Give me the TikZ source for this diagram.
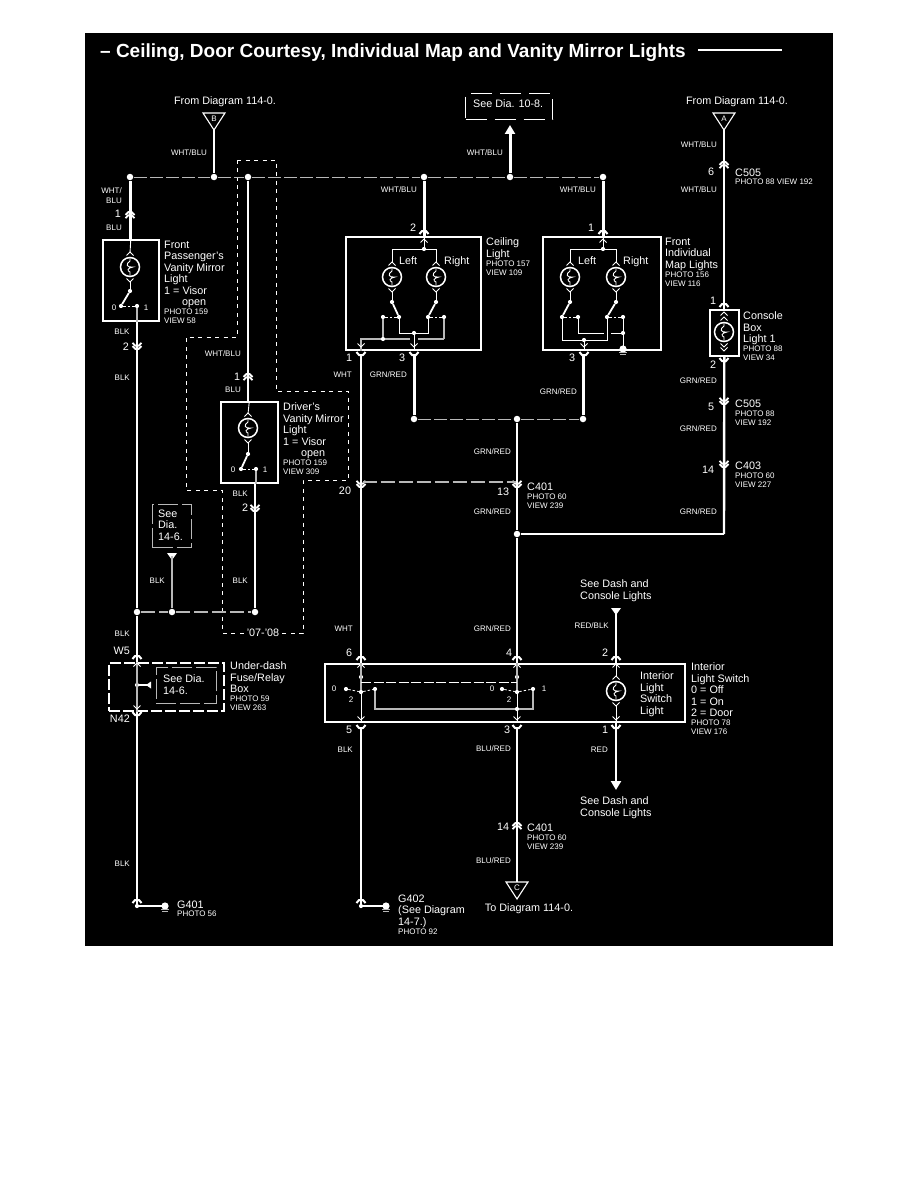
\documentclass[tikz,border=0pt]{standalone}
\usepackage{fontspec}
\setmainfont{Liberation Sans}
\usepackage{xcolor}
\usepackage{tikz}
\usetikzlibrary{arrows.meta}
\definecolor{bg}{HTML}{000000}
\definecolor{ink}{HTML}{FFFFFF}
\definecolor{dim}{HTML}{B8B8B8}
\newcommand{\smf}{\fontsize{8}{9}\selectfont}
\newcommand{\pv}[2]{\\[-2.2pt]{\smf #1}\\[-2.4pt]{\smf #2}}
\tikzset{
  wire/.style={draw=ink, line width=2.4pt},
  wireB/.style={draw=ink, line width=3pt},
  wireT/.style={draw=ink, line width=1.8pt},
  wireS/.style={draw=ink, line width=0.9pt},
  wireG/.style={draw=dim, line width=1.1pt},
  bus/.style={draw=dim, line width=0.8pt, dash pattern=on 13pt off 3pt},
  busB/.style={draw=dim, line width=1.7pt, dash pattern=on 14pt off 4pt},
  encl/.style={draw=ink, line width=0.8pt, dash pattern=on 4pt off 4.5pt},
  fuseB/.style={draw=ink, line width=1.6pt, dash pattern=on 11pt off 3pt},
  seeB/.style={draw=dim, line width=1.1pt, dash pattern=on 20pt off 4pt},
  mech/.style={draw=ink, line width=0.8pt, dash pattern=on 2.5pt off 2pt},
  box/.style={draw=ink, line width=1.6pt, inner sep=0pt, anchor=north west},
  dot/.style={circle, fill=ink, inner sep=0pt, minimum size=6.5pt, outer sep=1pt},
  dotS/.style={circle, fill=ink, inner sep=0pt, minimum size=4.2pt},
  blk/.style={text=ink, inner sep=0pt, anchor=north west, align=left, yshift=-1.8pt, font=\fontsize{10.8}{11.4}\selectfont},
  lab/.style={text=ink, inner sep=0pt, text height=7.8pt, text depth=0pt, font=\fontsize{10.8}{11.4}\selectfont},
  wl/.style={text=ink, inner sep=0pt, text height=5.8pt, text depth=0pt, font=\fontsize{8}{9}\selectfont},
  capUp/.pic={\draw[wireT, line width=2pt] (-4.5,2) -- (-2,-1) -- (2,-1) -- (4.5,2);},
  capDn/.pic={\draw[wireT, line width=2pt] (-4.5,-2) -- (-2,1) -- (2,1) -- (4.5,-2);},
  pinUp/.pic={\draw[wireT] (-4.5,0) -- (-1.5,-3) -- (1.5,-3) -- (4.5,0); \draw[wireT] (-4.5,3.2) -- (-1.5,0.2) -- (1.5,0.2) -- (4.5,3.2);},
  pinDn/.pic={\draw[wireT] (-4.5,-3.2) -- (-1.5,-0.2) -- (1.5,-0.2) -- (4.5,-3.2); \draw[wireT] (-4.5,0) -- (-1.5,3) -- (1.5,3) -- (4.5,0);},
  chevUp/.pic={\draw[wireS] (-3.5,2.5) -- (0,-1) -- (3.5,2.5);},
  chevDn/.pic={\draw[wireS] (-3.5,-2.5) -- (0,1) -- (3.5,-2.5);},
  lamp/.pic={
    \draw[draw=ink, line width=1.5pt] (0,0) circle[radius=9.5pt];
    \draw[wireS] (0,-9) -- (0,-6) .. controls (-5,-3) and (-3,1) .. (3,0) .. controls (-3,1) and (-3,4) .. (0,5) -- (0,9);
    \pic at (0,-14) {chevUp};
    \pic at (0,14) {chevDn};
  },
  gnd/.pic={
    \fill[ink] (0,0) circle[radius=3.6pt];
    \draw[draw=dim, line width=1.2pt] (-4,3.6) -- (4,3.6);
    \draw[draw=dim, line width=1.2pt] (-3,5.6) -- (3,5.6);
  },
  headDn/.pic={\fill[ink] (-5,-3) -- (5,-3) -- (0,4) -- cycle;},
  offTri/.pic={\draw[draw=ink, line width=1.1pt] (-11,0) -- (11,0) -- (0,17) -- cycle;}
}

\begin{document}
\begin{tikzpicture}[x=1pt,y=-1pt]
  \useasboundingbox (0,0) rectangle (918,1188);
  \fill[bg] (85,33) rectangle (833,946);

  % title
  \node[text=ink, inner sep=0pt, anchor=west, font=\fontsize{19}{21}\bfseries\selectfont] (titleTxt) at (100,52.5) {– Ceiling, Door Courtesy, Individual Map and Vanity Mirror Lights};
  \coordinate (ruleA) at (698,50);
  \coordinate (ruleB) at (782,50);
  \draw[wireT] (ruleA) -- (ruleB);

  % model year outline
  \draw[encl] (237,160) -- (276,160) -- (276,391) -- (348,391) -- (348,480) -- (303,480) -- (303,633) -- (222,633) -- (222,490) -- (186,490) -- (186,337) -- (237,337) -- cycle;
  \node[lab, fill=bg, inner xsep=3pt, anchor=center] (yearLab) at (263,633) {'07-'08};

  % top bus
  \node[dot] (busA) at (130,177) {};
  \node[dot] (busB) at (214,177) {};
  \node[dot] (busC) at (248,177) {};
  \node[dot] (busD) at (424,177) {};
  \node[dot] (busE) at (510,177) {};
  \node[dot] (busF) at (603,177) {};
  \draw[bus] (busA) -- (busB);
  \draw[bus] (busB) -- (busC);
  \draw[bus] (busC) -- (busD);
  \draw[bus] (busD) -- (busE);
  \draw[bus] (busE) -- (busF);

  % feed B
  \node[lab, anchor=center] (fromB) at (225,101) {From Diagram 114-0.};
  \pic at (214,113) {offTri};
  \node[wl, anchor=center] (triBtxt) at (214,119) {B};
  \coordinate (triB) at (214,130);
  \draw[wire] (triB) -- (busB);
  \node[wl, anchor=center] (wbB) at (189,153) {WHT/BLU};

  % feed A
  \node[lab, anchor=center] (fromA) at (737,101) {From Diagram 114-0.};
  \pic at (724,113) {offTri};
  \node[wl, anchor=center] (triAtxt) at (724,119) {A};
  \coordinate (triA) at (724,130);
  \coordinate (conTop) at (724,309);
  \draw[wireT] (triA) -- (conTop);
  \pic at (724,165) {pinUp};
  \node[wl, anchor=east] (wbA1) at (717,145) {WHT/BLU};
  \node[wl, anchor=east] (wbA2) at (717,190) {WHT/BLU};
  \node[lab] (pinA6) at (711,172) {6};
  \node[blk] (c505a) at (735,167) {C505\\[-3pt]{\smf PHOTO 88 VIEW 192}};

  % passenger mirror light
  \node[box, minimum width=56pt, minimum height=81pt] (passBox) at (102,239) {};
  \draw[wireB] (busA) -- (busA |- passBox.north);
  \pic at (130,215) {pinUp};
  \node[wl, anchor=east] (wbP1) at (122,191) {WHT/};
  \node[wl, anchor=east] (wbP2) at (122,201) {BLU};
  \node[lab] (pinP1) at (118,214) {1};
  \node[wl, anchor=east] (wbP3) at (122,228) {BLU};
  \node[blk] (passLab) at (164,239) {Front\\Passenger's\\Vanity Mirror\\Light\\1 = Visor\\\hspace{18pt}open\pv{PHOTO 159}{VIEW 58}};
  \pic at (130,267) {lamp};
  \node[dotS] (passLampA) at (130,291) {};
  \node[dotS] (passSwA) at (121,306) {};
  \node[dotS] (passSwB) at (137,306) {};
  \draw[wireS] (passBox.north) -- (130,253);
  \draw[wireS] (130,281) -- (passLampA);
  \draw[wireT] (passLampA) -- (passSwA);
  \draw[mech] (passSwA) -- (passSwB);
  \node[wl] (passZero) at (114,308) {0};
  \node[wl] (passOne) at (146,308) {1};
  \draw[wireG] (passSwB) -- (passSwB |- passBox.south);

  % passenger ground run
  \node[dot] (lowA) at (137,612) {};
  \node[dot] (lowB) at (172,612) {};
  \node[dot] (lowC) at (255,612) {};
  \draw[wire] (passSwB |- passBox.south) -- (lowA);
  \pic at (137,346) {pinDn};
  \node[wl, anchor=center] (blkP1) at (122,332) {BLK};
  \node[lab] (pinP2) at (126,347) {2};
  \node[wl, anchor=east] (blkP2) at (130,378) {BLK};
  \node[wl, anchor=east] (blkP3) at (130,634) {BLK};
  \draw[busB] (lowA) -- (lowB);
  \draw[busB] (lowB) -- (lowC);

  % see dia box left
  \node[box, seeB, minimum width=39pt, minimum height=43pt] (seeLeft) at (152,504) {};
  \node[blk, anchor=north west] (seeLeftTxt) at (158,508) {See\\Dia.\\14-6.};
  \coordinate (seeLeftEnd) at (172,556);
  \pic at (172,556) {headDn};
  \draw[wire, dim] (seeLeftEnd) -- (lowB);
  \node[wl, anchor=east] (blkS) at (165,581) {BLK};

  % driver mirror light
  \node[box, minimum width=57pt, minimum height=81pt] (drvBox) at (220,401) {};
  \draw[wire] (busC) -- (busC |- drvBox.north);
  \pic at (248,377) {pinUp};
  \node[wl, anchor=east] (wbD1) at (241,354) {WHT/BLU};
  \node[lab] (pinD1) at (237,377) {1};
  \node[wl, anchor=east] (wbD2) at (241,390) {BLU};
  \node[blk] (drvLab) at (283,401) {Driver's\\Vanity Mirror\\Light\\1 = Visor\\\hspace{18pt}open\pv{PHOTO 159}{VIEW 309}};
  \pic at (248,428) {lamp};
  \node[dotS] (drvLampA) at (248,454) {};
  \node[dotS] (drvSwA) at (241,469) {};
  \node[dotS] (drvSwB) at (256,469) {};
  \draw[wireS] (drvBox.north) -- (248,414);
  \draw[wireS] (248,442) -- (drvLampA);
  \draw[wireT] (drvLampA) -- (drvSwA);
  \draw[mech] (drvSwA) -- (drvSwB);
  \node[wl] (drvZero) at (233,470) {0};
  \node[wl] (drvOne) at (265,470) {1};
  \draw[wireG] (drvSwB) -- (drvSwB |- drvBox.south);
  \draw[wire] (lowC |- drvBox.south) -- (lowC);
  \pic at (255,508) {pinDn};
  \node[wl, anchor=east] (blkD1) at (248,494) {BLK};
  \node[lab] (pinD2) at (245,508) {2};
  \node[wl, anchor=east] (blkD2) at (248,581) {BLK};

  % fuse box
  \node[box, fuseB, minimum width=115pt, minimum height=48pt] (fuseBox) at (108,662) {};
  \node[box, seeB, line width=0.9pt, minimum width=60pt, minimum height=36pt] (fuseSee) at (156,667) {};
  \node[blk] (fuseSeeTxt) at (163,673) {See Dia.\\14-6.};
  \node[blk] (fuseLab) at (230,660) {Under-dash\\Fuse/Relay\\Box\pv{PHOTO 59}{VIEW 263}};
  \node[lab, anchor=east] (w5Lab) at (130,651) {W5};
  \node[lab, anchor=east] (n42Lab) at (130,719) {N42};
  \node[dotS] (fuseDot) at (137,685) {};
  \coordinate (fuseTip) at (150,685);
  \draw[wireT] (fuseDot) -- (fuseTip);
  \fill[ink] (146,685) -- (151,681.5) -- (151,688.5) -- cycle;
  \draw[wire] (lowA) -- (lowA |- fuseBox.north);
  \draw[wireG] (lowA |- fuseBox.north) -- (lowA |- fuseBox.south);
  \pic at (137,657) {capUp};
  \pic at (137,664) {chevUp};
  \pic at (137,708) {chevDn};
  \pic at (137,714) {capDn};
  \node[dotS] (g401A) at (137,906) {};
  \coordinate (g401B) at (164,906);
  \draw[wire] (lowA |- fuseBox.south) -- (g401A);
  \draw[wireT] (g401A) -- (g401B);
  \pic at (137,901) {capUp};
  \pic at (165,906) {gnd};
  \node[wl, anchor=east] (blkG1) at (130,864) {BLK};
  \node[blk] (g401Lab) at (177,899) {G401\\[-3pt]{\smf PHOTO 56}};

  % see dia top
  \node[box, fuseB, line width=1.1pt, dash pattern=on 21pt off 8pt, minimum width=87pt, minimum height=26pt] (seeTop) at (465,93) {};
  \node[lab, anchor=west] (seeTopTxt) at (473,104) {See Dia. 10-8.};
  \coordinate (seeTip) at (510,125);
  \draw[wireB, -{Triangle[width=10pt,length=9pt]}] (busE) -- (seeTip);
  \node[wl, anchor=east] (wbT) at (503,153) {WHT/BLU};

  % ceiling light
  \node[box, minimum width=135pt, minimum height=113pt] (ceilBox) at (345,236) {};
  \draw[wireB] (busD) -- (busD |- ceilBox.north);
  \pic at (424,232) {capUp};
  \pic at (424,240) {chevUp};
  \node[wl, anchor=east] (wbC) at (417,190) {WHT/BLU};
  \node[lab] (pinC2) at (413,228) {2};
  \node[blk] (ceilLab) at (486,236) {Ceiling\\Light\pv{PHOTO 157}{VIEW 109}};
  \node[dotS] (ceilTop) at (424,249) {};
  \draw[wireS] (ceilTop |- ceilBox.north) -- (ceilTop);
  \pic at (392,277) {lamp};
  \pic at (436,277) {lamp};
  \draw[wireS] (392,263) |- (ceilTop);
  \draw[wireS] (436,263) |- (ceilTop);
  \node[lab, anchor=west] (ceilL) at (399,261) {Left};
  \node[lab, anchor=west] (ceilR) at (444,261) {Right};
  \node[dotS] (ceilLa) at (392,302) {};
  \node[dotS] (ceilRa) at (436,302) {};
  \node[dotS] (ceilLb) at (399,317) {};
  \node[dotS] (ceilRb) at (428,317) {};
  \node[dotS] (ceilLc) at (383,317) {};
  \node[dotS] (ceilRc) at (444,317) {};
  \draw[wireS] (392,291) -- (ceilLa);
  \draw[wireS] (436,291) -- (ceilRa);
  \draw[wireT] (ceilLa) -- (ceilLb);
  \draw[wireT] (ceilRa) -- (ceilRb);
  \draw[mech] (ceilLc) -- (ceilLb);
  \draw[mech] (ceilRb) -- (ceilRc);
  \node[dotS] (ceilMid) at (414,333) {};
  \node[dotS] (ceilGr) at (383,339) {};
  \coordinate (ceilOut) at (361,339);
  \coordinate (ceilEnd) at (444,339);
  \draw[wireS] (ceilLb) |- (ceilMid);
  \draw[wireS] (ceilRb) |- (ceilMid);
  \draw[wireG] (ceilLc) -- (ceilGr);
  \draw[wireG] (ceilRc) -- (ceilEnd);
  \draw[wireG, line width=1.5pt] (ceilOut |- ceilBox.south) -- (ceilOut) -- (ceilGr) -- (410,339);
  \draw[wireG, line width=1.5pt] (418,339) -- (ceilEnd);
  \draw[wireS] (ceilMid) -- (ceilMid |- ceilBox.south);
  \pic at (361,346) {chevDn};
  \pic at (414,346) {chevDn};
  \pic at (361,354) {capDn};
  \pic at (414,354) {capDn};
  \node[lab] (pinC1) at (349,358) {1};
  \node[lab] (pinC3) at (402,358) {3};
  \node[wl, anchor=east] (whtC) at (352,375) {WHT};
  \node[wl, anchor=east] (grC) at (407,375) {GRN/RED};

  % map lights
  \node[box, minimum width=118pt, minimum height=113pt] (mapBox) at (542,236) {};
  \draw[wireB] (busF) -- (busF |- mapBox.north);
  \pic at (603,232) {capUp};
  \pic at (603,240) {chevUp};
  \node[wl, anchor=east] (wbM) at (596,190) {WHT/BLU};
  \node[lab] (pinM1) at (591,228) {1};
  \node[blk] (mapLab) at (665,236) {Front\\Individual\\Map Lights\pv{PHOTO 156}{VIEW 116}};
  \node[dotS] (mapTop) at (603,249) {};
  \draw[wireS] (mapTop |- mapBox.north) -- (mapTop);
  \pic at (570,277) {lamp};
  \pic at (616,277) {lamp};
  \draw[wireS] (570,263) |- (mapTop);
  \draw[wireS] (616,263) |- (mapTop);
  \node[lab, anchor=west] (mapL) at (578,261) {Left};
  \node[lab, anchor=west] (mapR) at (623,261) {Right};
  \node[dotS] (mapLa) at (570,302) {};
  \node[dotS] (mapRa) at (616,302) {};
  \node[dotS] (mapLb) at (562,317) {};
  \node[dotS] (mapRb) at (607,317) {};
  \node[dotS] (mapLc) at (578,317) {};
  \node[dotS] (mapRc) at (623,317) {};
  \draw[wireS] (570,291) -- (mapLa);
  \draw[wireS] (616,291) -- (mapRa);
  \draw[wireT] (mapLa) -- (mapLb);
  \draw[wireT] (mapRa) -- (mapRb);
  \draw[mech] (mapLb) -- (mapLc);
  \draw[mech] (mapRb) -- (mapRc);
  \node[dotS] (mapMid) at (584,340) {};
  \node[dotS] (mapSide) at (623,333) {};
  \coordinate (mapGapA) at (604,333);
  \coordinate (mapGapB) at (611,333);
  \draw[wireS] (mapLb) |- (mapMid);
  \draw[wireS] (mapRb) |- (mapMid);
  \draw[wireS] (mapLc) |- (mapGapA);
  \draw[wireS] (mapGapB) -- (mapSide);
  \draw[wireS] (mapRc) -- (mapSide);
  \draw[wireS] (mapSide) -- (mapSide |- mapBox.south);
  \draw[wireS] (mapMid) -- (mapMid |- mapBox.south);
  \pic at (623,349) {gnd};
  \pic at (584,346) {chevDn};
  \pic at (584,354) {capDn};
  \node[lab] (pinM3) at (572,358) {3};

  % green/red run
  \node[dot] (grA) at (414,419) {};
  \node[dot] (grB) at (517,419) {};
  \node[dot] (grC2) at (583,419) {};
  \node[dot] (grD) at (517,534) {};
  \coordinate (grCorner) at (724,534);
  \draw[bus] (grA) -- (grB);
  \draw[bus] (grB) -- (grC2);
  \draw[wireB] (ceilMid |- ceilBox.south) ++(0,5) -- (grA);
  \draw[wireB] (grC2 |- mapBox.south) ++(0,5) -- (grC2);
  \draw[wire] (grB) -- (grD);
  \node[wl, anchor=east] (grM) at (577,392) {GRN/RED};
  \node[wl, anchor=east] (grX1) at (511,452) {GRN/RED};
  \node[wl, anchor=east] (grX2) at (511,512) {GRN/RED};
  \node[wl, anchor=east] (grX3) at (511,629) {GRN/RED};
  \pic at (517,484) {pinDn};
  \node[lab] (pin13) at (503,492) {13};
  \node[blk] (c401a) at (527,481) {C401\pv{PHOTO 60}{VIEW 239}};
  \draw[wire] (grD) -- (grCorner);

  % console box
  \node[box, minimum width=29pt, minimum height=46pt] (conBox) at (709,309) {};
  \pic at (724,305) {capUp};
  \pic at (724,313) {chevUp};
  \pic at (724,332) {lamp};
  \pic at (724,350) {chevDn};
  \pic at (724,360) {capDn};
  \node[lab] (pinK1) at (713,301) {1};
  \node[lab] (pinK2) at (713,365) {2};
  \node[blk] (conLab) at (743,310) {Console\\Box\\Light 1\pv{PHOTO 88}{VIEW 34}};
  \draw[wire] (conBox.south) -- (grCorner);
  \node[wl, anchor=east] (grK1) at (717,381) {GRN/RED};
  \node[wl, anchor=east] (grK2) at (717,429) {GRN/RED};
  \node[wl, anchor=east] (grK3) at (717,512) {GRN/RED};
  \pic at (724,401) {pinDn};
  \node[lab] (pinK5) at (711,407) {5};
  \node[blk] (c505b) at (735,398) {C505\pv{PHOTO 88}{VIEW 192}};
  \pic at (724,464) {pinDn};
  \node[lab] (pinK14) at (708,470) {14};
  \node[blk] (c403) at (735,460) {C403\pv{PHOTO 60}{VIEW 227}};

  % interior switch
  \node[box, minimum width=360pt, minimum height=58pt] (swBox) at (324,663) {};
  \draw[wire] (ceilOut |- ceilBox.south) ++(0,5) -- (ceilOut |- swBox.north);
  \draw[wire] (grD) -- (grD |- swBox.north);
  \pic at (361,484) {pinDn};
  \node[lab] (pin20) at (345,491) {20};
  \node[dot, minimum size=1pt, fill=none] (crossA) at (361,482) {};
  \node[dot, minimum size=1pt, fill=none] (crossB) at (517,482) {};
  \draw[busB] (crossA) -- (crossB);
  \node[wl, anchor=east] (whtS) at (353,629) {WHT};
  \node[blk] (dashA) at (580,578) {See Dash and\\Console Lights};
  \pic at (616,611) {headDn};
  \coordinate (redIn) at (616,612);
  \draw[wire] (redIn) -- (redIn |- swBox.north);
  \node[wl, anchor=east] (rbS) at (609,626) {RED/BLK};
  \foreach \x in {361,517,616} {
    \pic at (\x,658) {capUp};
    \pic at (\x,665) {chevUp};
    \pic at (\x,719) {chevDn};
    \pic at (\x,727) {capDn};
  }
  \node[lab] (pinS6) at (349,653) {6};
  \node[lab] (pinS4) at (509,653) {4};
  \node[lab] (pinS2) at (605,653) {2};
  \node[lab] (pinS5) at (349,730) {5};
  \node[lab] (pinS3) at (507,730) {3};
  \node[lab] (pinS1) at (605,730) {1};
  \node[dotS] (swAa) at (361,677) {};
  \node[dotS] (swBa) at (517,677) {};
  \node[dotS] (swAb) at (361,692) {};
  \node[dotS] (swBb) at (517,692) {};
  \node[dotS] (swAl) at (346,689) {};
  \node[dotS] (swAr) at (375,689) {};
  \node[dotS] (swBl) at (502,689) {};
  \node[dotS] (swBr) at (533,689) {};
  \node[dotS] (swLow) at (517,709) {};
  \draw[wireG] (swAa |- swBox.north) -- (swAb);
  \draw[wireG] (swBa |- swBox.north) -- (swBb);
  \draw[wireS] (swAb) -- (swAb |- swBox.south);
  \draw[wireS] (swBb) -- (swBb |- swBox.south);
  \coordinate (mechA) at (361,682.5);
  \coordinate (mechB) at (517,682.5);
  \draw[draw=ink, line width=1pt, dash pattern=on 10pt off 2.5pt] (mechA) -- (mechB);
  \draw[mech] (swAl) -- (swAb) -- (swAr);
  \draw[mech] (swBl) -- (swBb) -- (swBr);
  \draw[wireG] (swAr) |- (swLow);
  \draw[wireG] (swBr) |- (swLow);
  \node[wl] (swZa) at (334,689) {0};
  \node[wl] (swZb) at (492,689) {0};
  \node[wl] (swTa) at (351,700) {2};
  \node[wl] (swTb) at (509,700) {2};
  \node[wl] (swOb) at (544,689) {1};
  \pic at (616,691) {lamp};
  \draw[wireS] (616,663) -- (616,677);
  \draw[wireS] (616,705) -- (616,721);
  \node[blk] (swIn) at (640,670) {Interior\\Light\\Switch\\Light};
  \node[blk] (swLab) at (691,661) {Interior\\Light Switch\\0 = Off\\1 = On\\2 = Door\pv{PHOTO 78}{VIEW 176}};

  % below switch
  \node[dotS] (g402A) at (361,906) {};
  \coordinate (g402B) at (385,906);
  \draw[wire] (swAb |- swBox.south) ++(0,5) -- (g402A);
  \draw[wireT] (g402A) -- (g402B);
  \pic at (361,901) {capUp};
  \pic at (386,906) {gnd};
  \node[wl, anchor=east] (blkG2) at (353,750) {BLK};
  \node[blk] (g402Lab) at (398,893) {G402\\(See Diagram\\14-7.)\\[-2.2pt]{\smf PHOTO 92}};
  \coordinate (triC) at (517,882);
  \draw[wire] (swBb |- swBox.south) ++(0,5) -- (triC);
  \pic at (517,882) {offTri};
  \node[wl, anchor=center] (triCtxt) at (517,888) {C};
  \node[wl, anchor=east] (brS1) at (511,749) {BLU/RED};
  \node[wl, anchor=east] (brS2) at (511,861) {BLU/RED};
  \pic at (517,826) {pinUp};
  \node[lab] (pinB14) at (503,827) {14};
  \node[blk] (c401b) at (527,822) {C401\pv{PHOTO 60}{VIEW 239}};
  \node[lab, anchor=center] (toC) at (529,908) {To Diagram 114-0.};
  \coordinate (redOut) at (616,790);
  \draw[wire, -{Triangle[width=10pt,length=9pt]}] (redOut |- swBox.south) -- (redOut);
  \node[wl, anchor=east] (redS) at (608,750) {RED};
  \node[blk] (dashB) at (580,795) {See Dash and\\Console Lights};
\end{tikzpicture}
\end{document}
